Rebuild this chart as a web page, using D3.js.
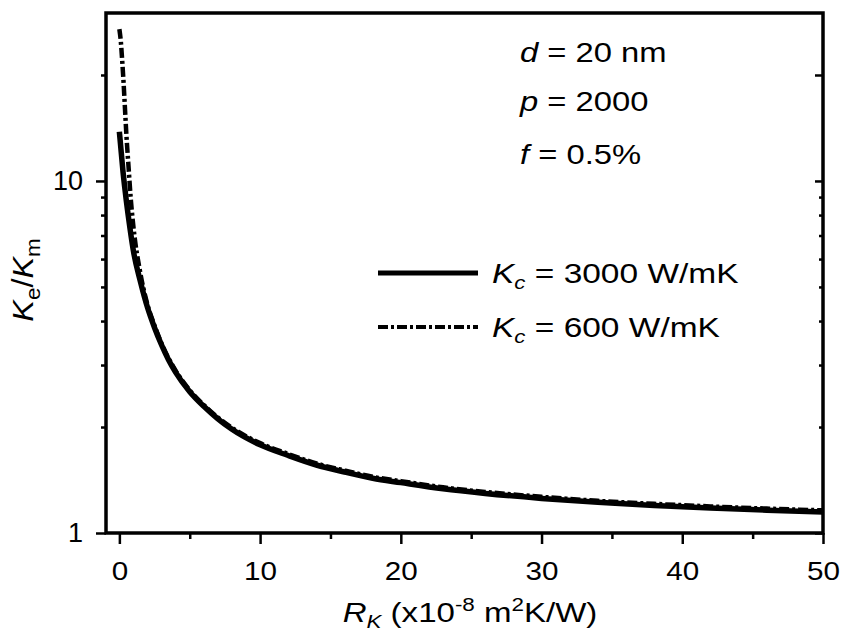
<!DOCTYPE html>
<html>
<head>
<meta charset="utf-8">
<script src="https://cdn.jsdelivr.net/npm/d3@7"></script>
<style>
  html, body { margin: 0; padding: 0; background: #fff; }
  svg { display: block; }
  text { font-family: "Liberation Sans", Arial, sans-serif; fill: #000; }
</style>
</head>
<body>
<svg id="chart" width="843" height="634"></svg>
<script>
// Thermal boundary resistance R_K (x10^-8 m^2K/W) vs. effective conductivity ratio Ke/Km
const rkSolid = [0, 0.25, 0.5, 0.75, 1.0, 1.5, 2.0, 2.5, 3.0, 3.5, 4.0, 5.0, 6.0, 7.0, 8.0, 10, 12, 14, 16, 18, 20, 23, 26, 30, 34, 38, 42, 46, 50];
const keSolid = [13.8, 10.7, 8.75, 7.36, 6.32, 5.17, 4.37, 3.83, 3.42, 3.1, 2.86, 2.52, 2.29, 2.11, 1.97, 1.78, 1.66, 1.56, 1.49, 1.43, 1.39, 1.335, 1.295, 1.254, 1.222, 1.198, 1.178, 1.161, 1.148];

const rkDash = [0, 0.1, 0.2, 0.3, 0.4, 0.5, 0.65, 0.8, 1.0, 1.5, 2.0, 2.5, 3.0, 4.0, 5.0, 6.0, 7.0, 8.0, 10, 12, 14, 16, 18, 20, 23, 26, 30, 34, 38, 42, 46, 50];
const keDash = [27, 25, 22, 19, 16, 13.5, 11, 9.0, 7.4, 5.45, 4.45, 3.88, 3.45, 2.89, 2.545, 2.31, 2.13, 1.99, 1.80, 1.677, 1.576, 1.505, 1.444, 1.404, 1.348, 1.308, 1.267, 1.234, 1.21, 1.19, 1.173, 1.16];

const xMajorTicks = [0, 10, 20, 30, 40, 50];
const xMinorTicks = [5, 15, 25, 35, 45];
const yMajorTicks = [1, 10];
const yMinorTicks = [2, 3, 4, 5, 6, 7, 8, 9, 20];

const seriesNames = ["3000 W/mK", "600 W/mK"];
const notes = [["d", " = 20 nm"], ["p", " = 2000"], ["f", " = 0.5%"]];

const W = 843, H = 634;
const margin = { left: 106, top: 13, right: 20, bottom: 101 };
const svg = d3.select("#chart");

const x = d3.scaleLinear().domain([-0.95, 50]).range([margin.left, W - margin.right]);
const y = d3.scaleLog().domain([1, 30]).range([H - margin.bottom, margin.top]);

const X0 = margin.left, X1 = W - margin.right, Y0 = H - margin.bottom, Y1 = margin.top;

// Axes: outward ticks on left and bottom, inward on the right
function styleAxis(g) {
  g.select(".domain").remove();
  g.selectAll(".tick line").attr("stroke", "#000").attr("stroke-width", 2.5);
}

svg.append("g").attr("transform", `translate(0,${Y0})`)
  .call(d3.axisBottom(x).tickValues(xMajorTicks).tickSize(11).tickPadding(18).tickFormat(d3.format("d")))
  .call(styleAxis)
  .call(g => g.selectAll("text").attr("font-size", 26).attr("font-family", "Liberation Sans, Arial")
      .attr("transform", "scale(1.14,1)"));

svg.append("g").attr("transform", `translate(0,${Y0})`)
  .call(d3.axisBottom(x).tickValues(xMinorTicks).tickSize(6).tickFormat(""))
  .call(styleAxis);

svg.append("g").attr("transform", `translate(${X0},0)`)
  .call(d3.axisLeft(y).tickValues(yMajorTicks).tickSize(10).tickPadding(13).tickFormat(d3.format("d")))
  .call(styleAxis)
  .call(g => g.selectAll("text").attr("font-size", 27).attr("font-family", "Liberation Sans, Arial"));

svg.append("g").attr("transform", `translate(${X0},0)`)
  .call(d3.axisLeft(y).tickValues(yMinorTicks).tickSize(5).tickFormat(""))
  .call(styleAxis);

svg.append("g").attr("transform", `translate(${X1},0)`)
  .call(d3.axisLeft(y).tickValues(yMajorTicks.concat([20])).tickSize(8).tickFormat(""))
  .call(styleAxis);
svg.append("g").attr("transform", `translate(${X1},0)`)
  .call(d3.axisLeft(y).tickValues(yMinorTicks.filter(v => v !== 20)).tickSize(4).tickFormat(""))
  .call(styleAxis);

// Curves
svg.append("clipPath").attr("id", "plotclip")
  .append("rect").attr("x", X0).attr("y", Y1).attr("width", X1 - X0).attr("height", Y0 - Y1);

const line = d3.line().curve(d3.curveMonotoneX);
const dashPattern = "10,3,3,3";

svg.append("path")
  .attr("clip-path", "url(#plotclip)")
  .attr("d", line(rkDash.map((r, i) => [x(r), y(keDash[i])])))
  .attr("fill", "none").attr("stroke", "#000").attr("stroke-width", 4.5)
  .attr("stroke-dasharray", dashPattern);

svg.append("path")
  .attr("clip-path", "url(#plotclip)")
  .attr("d", line(rkSolid.map((r, i) => [x(r), y(keSolid[i])])))
  .attr("fill", "none").attr("stroke", "#000").attr("stroke-width", 5.5)
  .attr("stroke-linejoin", "round");

// Frame
svg.append("rect").attr("x", X0).attr("y", Y1).attr("width", X1 - X0).attr("height", Y0 - Y1)
  .attr("fill", "none").attr("stroke", "#000").attr("stroke-width", 3.5);

// Axis titles
const xt = svg.append("text").attr("transform", "translate(470,622) scale(1.18,1)")
  .attr("text-anchor", "middle").attr("font-size", 28);
xt.append("tspan").attr("font-style", "italic").text("R");
xt.append("tspan").attr("font-style", "italic").attr("font-size", 19).attr("dy", 6).text("K");
xt.append("tspan").attr("dy", -6).text(" (x10");
xt.append("tspan").attr("font-size", 19).attr("dy", -11).text("-8");
xt.append("tspan").attr("dy", 11).text(" m");
xt.append("tspan").attr("font-size", 19).attr("dy", -11).text("2");
xt.append("tspan").attr("dy", 11).text("K/W)");

const yt = svg.append("text").attr("transform", "translate(33,280) rotate(-90) scale(1.12,1)")
  .attr("text-anchor", "middle").attr("font-size", 29);
yt.append("tspan").attr("font-style", "italic").text("K");
yt.append("tspan").attr("font-size", 20).attr("dy", 7).text("e");
yt.append("tspan").attr("dy", -7).text("/");
yt.append("tspan").attr("font-style", "italic").text("K");
yt.append("tspan").attr("font-size", 20).attr("dy", 7).text("m");

// Parameter notes
const noteY = [62, 111, 164];
notes.forEach((n, i) => {
  const t = svg.append("text").attr("transform", `translate(520,${noteY[i]}) scale(1.17,1)`).attr("font-size", 28);
  t.append("tspan").attr("font-style", "italic").text(n[0]);
  t.append("tspan").text(n[1]);
});

// Legend
const legY = [273, 327];
const legTextY = [283, 337];
seriesNames.forEach((name, i) => {
  svg.append("line").attr("x1", 378).attr("x2", 478).attr("y1", legY[i]).attr("y2", legY[i])
    .attr("stroke", "#000").attr("stroke-width", i === 0 ? 5 : 4)
    .attr("stroke-dasharray", i === 0 ? null : dashPattern);
  const t = svg.append("text").attr("transform", `translate(492,${legTextY[i]}) scale(1.24,1)`).attr("font-size", 27);
  t.append("tspan").attr("font-style", "italic").text("K");
  t.append("tspan").attr("font-style", "italic").attr("font-size", 18).attr("dy", 6).text("c");
  t.append("tspan").attr("dy", -6).text(" = " + name);
});
</script>
</body>
</html>
